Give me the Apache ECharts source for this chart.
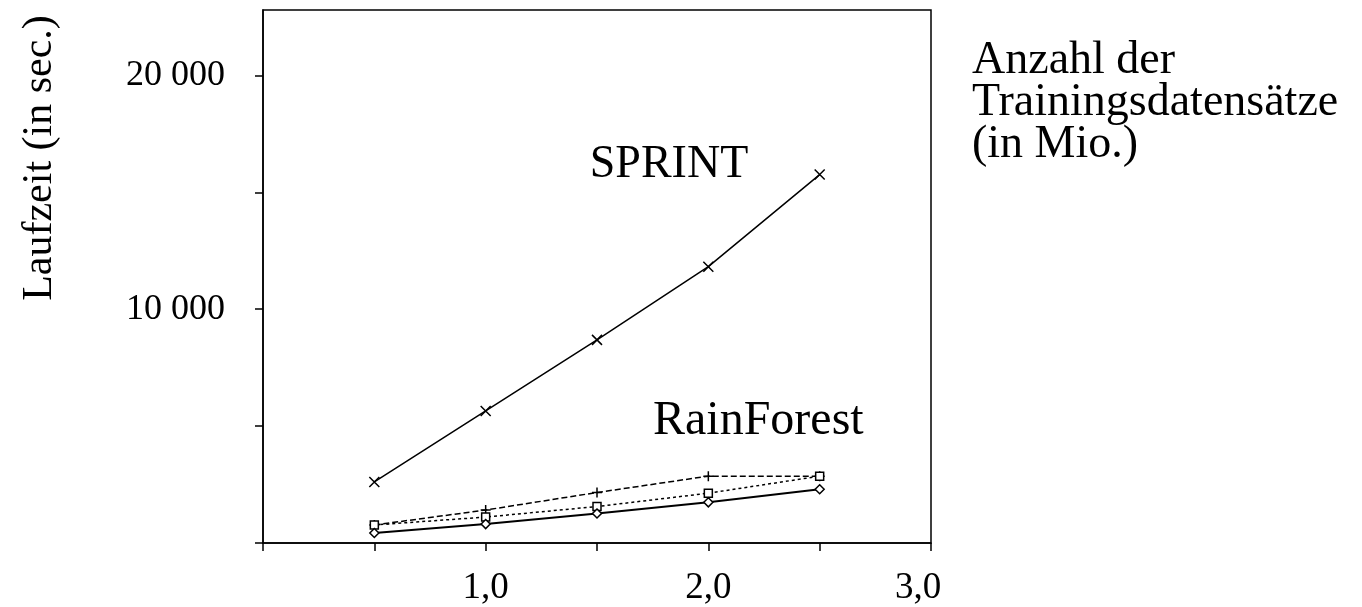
<!DOCTYPE html>
<html>
<head>
<meta charset="utf-8">
<script src="https://cdn.jsdelivr.net/npm/echarts@6/dist/echarts.min.js"></script>
<style>
  html, body { margin: 0; padding: 0; background: #fff; }
  #chart { width: 1362px; height: 607px; }
</style>
</head>
<body>
<div id="chart"></div>
<script>
// x: Anzahl der Trainingsdatensätze (in Mio.)
var xValues = [0.5, 1.0, 1.5, 2.0, 2.5]
// y: Laufzeit in sec.
var sprint = [2610, 5650, 8690, 11820, 15760]
var rfDashed = [770, 1410, 2160, 2860, 2860]
var rfDotted = [770, 1110, 1560, 2130, 2860]
var rfSolid = [430, 810, 1260, 1740, 2300]
var yTicks = [0, 5000, 10000, 15000, 20000]
var yLabels = [10000, 20000]
var xLabels = [1, 2, 3]

var font = '"Liberation Serif", "Times New Roman", serif'

function pairs(ys) {
  return xValues.map(function (x, i) { return [x, ys[i]] })
}

var chart = echarts.init(document.getElementById('chart'))
chart.setOption({
  backgroundColor: '#fff',
  animation: false,
  grid: {
    left: 263,
    right: 431,
    top: 10,
    bottom: 63,
    show: true,
    borderColor: '#000',
    borderWidth: 1.5
  },
  xAxis: {
    type: 'value',
    min: 0,
    max: 3,
    interval: 0.5,
    axisLine: { lineStyle: { color: '#000', width: 1.5 } },
    axisTick: { show: true, length: 8, lineStyle: { color: '#000', width: 1.5 } },
    splitLine: { show: false },
    axisLabel: {
      customValues: xLabels,
      margin: 27,
      color: '#000',
      fontFamily: font,
      fontSize: 37,
      formatter: function (v) {
        var s = v.toFixed(1).replace('.', ',')
        // das letzte Label sitzt im Original etwas links vom Tick
        return v === 3 ? '{last|' + s + '}' : s
      },
      rich: {
        last: { fontFamily: font, fontSize: 37, color: '#000', padding: [0, 26, 0, 0] }
      }
    }
  },
  yAxis: {
    type: 'value',
    min: 0,
    max: 22800,
    axisLine: { show: true, lineStyle: { color: '#000', width: 1.5 } },
    axisTick: { show: true, length: 8, customValues: yTicks, lineStyle: { color: '#000', width: 1.5 } },
    splitLine: { show: false },
    axisLabel: {
      customValues: yLabels,
      margin: 38,
      color: '#000',
      fontFamily: font,
      fontSize: 36,
      formatter: function (v) { return String(v / 1000) + ' 000' }
    }
  },
  graphic: [
    {
      type: 'text',
      x: 40,
      y: 158,
      rotation: Math.PI / 2,
      style: {
        text: 'Laufzeit (in sec.)',
        font: '42px ' + font,
        fill: '#000',
        align: 'center',
        verticalAlign: 'middle'
      }
    },
    {
      type: 'text',
      left: 972,
      top: 38,
      style: {
        text: 'Anzahl der\nTrainingsdatensätze\n(in Mio.)',
        font: '46px ' + font,
        lineHeight: 42,
        fill: '#000'
      }
    },
    {
      type: 'text',
      x: 669,
      y: 165,
      style: { text: 'SPRINT', font: '46px ' + font, fill: '#000', align: 'center', verticalAlign: 'middle' }
    },
    {
      type: 'text',
      x: 653,
      y: 421,
      style: { text: 'RainForest', font: '48px ' + font, fill: '#000', align: 'left', verticalAlign: 'middle' }
    }
  ],
  series: [
    {
      name: 'SPRINT',
      type: 'line',
      data: pairs(sprint),
      symbol: 'path://M0,0L10,10M10,0L0,10',
      symbolSize: 10,
      itemStyle: { color: 'none', borderColor: '#000', borderWidth: 1.5 },
      lineStyle: { color: '#000', width: 1.5 }
    },
    {
      name: 'RainForest A',
      type: 'line',
      data: pairs(rfDashed),
      symbol: 'path://M5,0L5,10M0,5L10,5',
      symbolSize: 10,
      itemStyle: { color: 'none', borderColor: '#000', borderWidth: 1.5 },
      lineStyle: { color: '#000', width: 1.5, type: [6, 3] }
    },
    {
      name: 'RainForest B',
      type: 'line',
      data: pairs(rfDotted),
      symbol: 'rect',
      symbolSize: 8,
      itemStyle: { color: '#fff', borderColor: '#000', borderWidth: 1.5 },
      lineStyle: { color: '#000', width: 1.5, type: [3, 3] }
    },
    {
      name: 'RainForest C',
      type: 'line',
      data: pairs(rfSolid),
      symbol: 'diamond',
      symbolSize: 9,
      itemStyle: { color: '#fff', borderColor: '#000', borderWidth: 1.5 },
      lineStyle: { color: '#000', width: 2 }
    }
  ]
})
</script>
</body>
</html>
